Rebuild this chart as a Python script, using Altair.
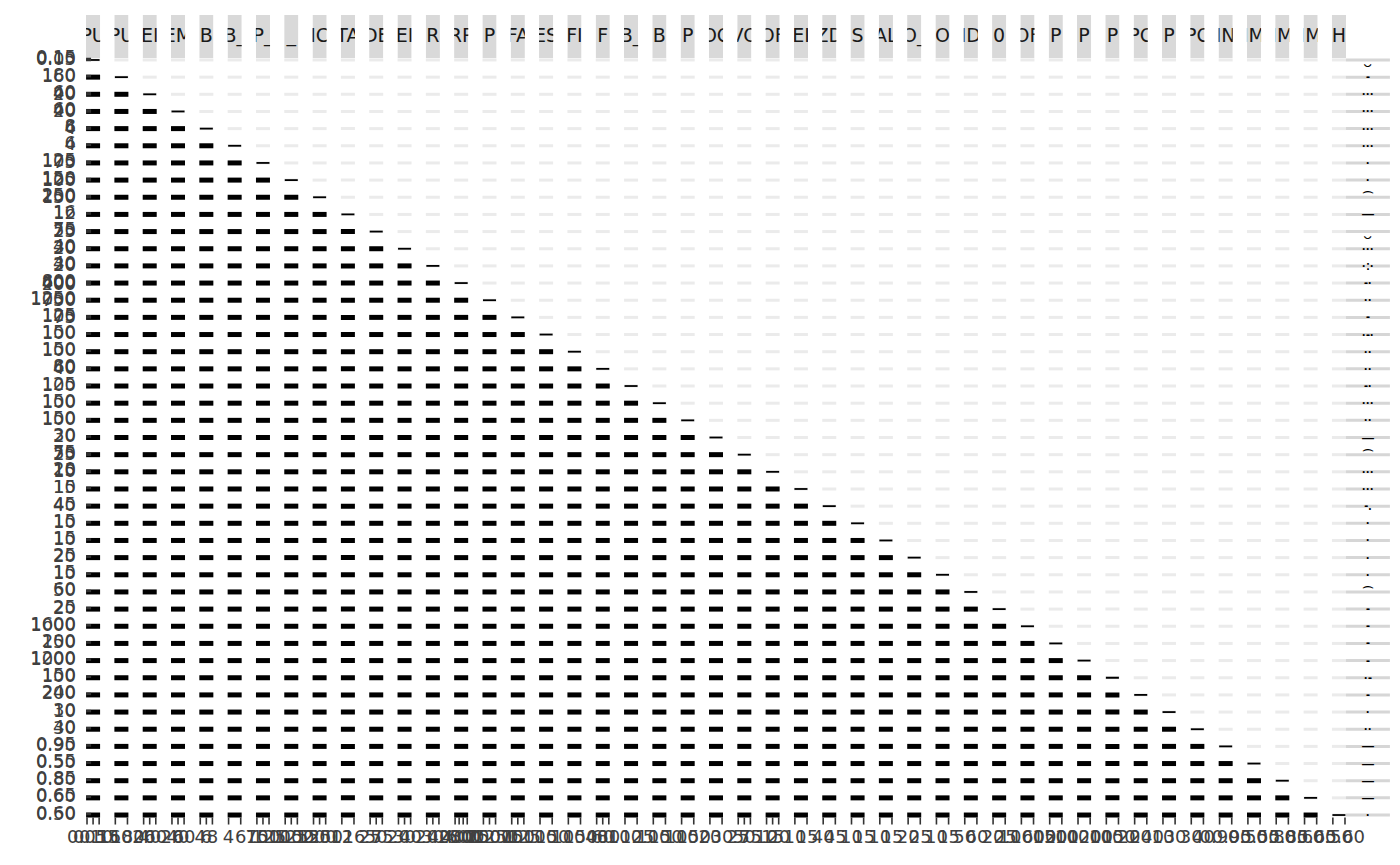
import altair as alt
import pandas as pd

# ---- data -----------------------------------------------------------------
strip_labels = ["PU", "PU", "EI", "EM", "B", "B_", "P_", "_", "IC", "TA", "DE", "EI",
                "R", "RP", "P", "FA", "ES", "FI", "F", "B_", "B", "P", "OC", "VO",
                "OF", "EI", "ZD", "S", "AL", "O_", "O", "ID", "0", "OF", "P", "P",
                "P", "PC", "P", "PC", "IN", "IM", "IM", "IM", "H"]

tick_labels = [
    ["0.15", "0.10", "0.05"], ["180", "160"], ["60", "40", "20"], ["60", "40", "20"],
    ["8", "6", "4"], ["6", "4"], ["125", "100", "75"], ["150", "125", "100"],
    ["250", "200", "150"], ["16", "12"], ["75", "50", "25"], ["40", "30", "20"],
    ["40", "30", "20"], ["800", "600", "400", "200"], ["1250", "1000", "750"],
    ["125", "100", "75"], ["150", "100"], ["150", "100"], ["80", "60", "40"],
    ["125", "100"], ["150", "100"], ["150", "100"], ["30", "20"], ["75", "50", "25"],
    ["20", "15", "10"], ["15", "10"], ["45", "40"], ["15", "10"], ["15", "10"],
    ["25", "20"], ["15", "10"], ["60", "50"], ["25", "20"], ["1600", "1000"],
    ["200", "150"], ["1200", "1000"], ["150", "100"], ["240", "200"], ["30", "10"],
    ["40", "30"], ["0.95", "0.90"], ["0.55", "0.50"], ["0.85", "0.80"],
    ["0.65", "0.60"], ["0.60", "0.50"],
]

row_strip_bits = ["‿", "-", "···", "···", "···", "···", "·", "·", "⌒", "—", "‿", "···",
                  "·:·", "-·", "··", "-", "·-·", "··", "··", "-·", "···", "··", "—", "⌒",
                  "···", "···", "-.", "·", "·", "·", "·", "⌒", "-", "-", "-", "-", "·-",
                  "-", "·", "··", "—", "—", "—", "—", "·"]

# ---- tables -----------------------------------------------------------------
n = len(strip_labels)
keys = [f"v{i:02d}" for i in range(n)]

cells = []
for i, r in enumerate(keys):
    for j, c in enumerate(keys):
        kind = "upper" if j > i else ("diag" if i == j else "lower")
        cells.append({"row": r, "col": c, "kind": kind})
cells = pd.DataFrame(cells)

ylab = []
for i, labs in enumerate(tick_labels):
    for k, t in enumerate(labs):
        ylab.append({"row": keys[i], "col": keys[0], "k": k, "label": t})
ylab = pd.DataFrame(ylab)

xlab = []
for j, labs in enumerate(tick_labels):
    asc = list(reversed(labs))
    m = len(asc)
    for k, t in enumerate(asc):
        pos = 3 if m == 1 else round(k * 6 / (m - 1))
        xlab.append({"col": keys[j], "row": keys[-1], "pos": pos, "label": t})
xlab = pd.DataFrame(xlab)

strips = pd.DataFrame({"row": keys, "col": [keys[-1]] * n, "bit": row_strip_bits})
head = pd.DataFrame({"col": keys, "label": strip_labels})

# ---- scales -------------------------------------------------------------------
W = 1260
H = 759
STEP = W / (n - 0.5)
xs = alt.Scale(type="band", domain=keys, paddingInner=0.5, paddingOuter=0)
ys = alt.Scale(type="band", domain=keys, paddingInner=0.77, paddingOuter=0)
xo = alt.Scale(domain=list(range(7)), paddingInner=0, paddingOuter=0)
yo = alt.Scale(domain=list(range(4)), paddingInner=0, paddingOuter=0)
LFONT = "DejaVu Sans"

X = lambda **kw: alt.X("col:N", scale=xs, axis=None, **kw)
Y = lambda **kw: alt.Y("row:N", scale=ys, axis=None, **kw)

base = alt.Chart(cells)
bg = base.mark_tick(orient="horizontal", size=14, thickness=3, color="#ebebeb",
                    opacity=1).encode(x=X(), y=Y())
lower = base.transform_filter("datum.kind == 'lower'").mark_tick(
    orient="horizontal", size=14, thickness=5, color="#000000", opacity=1).encode(x=X(), y=Y())
diag = base.transform_filter("datum.kind == 'diag'").mark_tick(
    orient="horizontal", size=13, thickness=1.8, color="#000000", opacity=1).encode(x=X(), y=Y())

yt = alt.Chart(ylab).mark_tick(orient="horizontal", size=5, thickness=1.5, opacity=1,
                               color="#333333", xOffset=-4.5).encode(
    x=X(bandPosition=0), y=Y(), yOffset=alt.YOffset("k:N", scale=yo))
yl = alt.Chart(ylab).mark_text(align="right", baseline="middle", fontSize=18, font=LFONT,
                               color="#404040", dx=-10).encode(
    x=X(bandPosition=0), y=Y(), yOffset=alt.YOffset("k:N", scale=yo), text="label:N")

xt = alt.Chart(xlab).mark_tick(orient="vertical", size=7, thickness=1.6, opacity=1,
                               color="#333333", yOffset=6).encode(
    x=X(), y=Y(), xOffset=alt.XOffset("pos:N", scale=xo))
xl = alt.Chart(xlab).mark_text(align="center", baseline="middle", fontSize=18, font=LFONT,
                               color="#404040", yOffset=23).encode(
    x=X(), y=Y(), xOffset=alt.XOffset("pos:N", scale=xo), text="label:N")

rs = alt.Chart(strips).mark_tick(orient="horizontal", size=44, thickness=3, opacity=1,
                                 color="#d6d6d6", xOffset=29).encode(x=X(), y=Y())
rb = alt.Chart(strips).mark_text(fontSize=12, fontWeight="bold", color="#000000", xOffset=29,
                                 baseline="middle").encode(x=X(), y=Y(), text="bit:N")

main = alt.layer(bg, lower, diag, yt, yl, xt, xl, rs, rb).properties(width=W, height=H)

# header strips: grey boxes, labels, and white gaps that clip the labels to the boxes
header = alt.layer(
    alt.Chart(head).mark_rect(color="#d9d9d9").encode(x=X()),
    alt.Chart(head).mark_text(fontSize=19, font=LFONT, color="#1a1a1a", dy=-1).encode(
        x=X(), text="label:N"),
    alt.Chart(head).mark_rect(color="#ffffff", x2Offset=STEP * 0.5).encode(
        x=X(bandPosition=1), x2=alt.X2("col:N", bandPosition=1)),
    alt.Chart(head).transform_filter(f"datum.col == '{keys[0]}'").mark_rect(
        color="#ffffff", xOffset=-STEP * 0.5).encode(
        x=X(bandPosition=0), x2=alt.X2("col:N", bandPosition=0)),
).properties(width=W, height=43)

chart = alt.vconcat(header, main, spacing=0, bounds="flush").configure_view(
    stroke=None).properties(padding={"left": 30, "top": 15, "right": 5, "bottom": 5})

chart.save("out.html", embed_options={"renderer": "svg", "actions": False})
